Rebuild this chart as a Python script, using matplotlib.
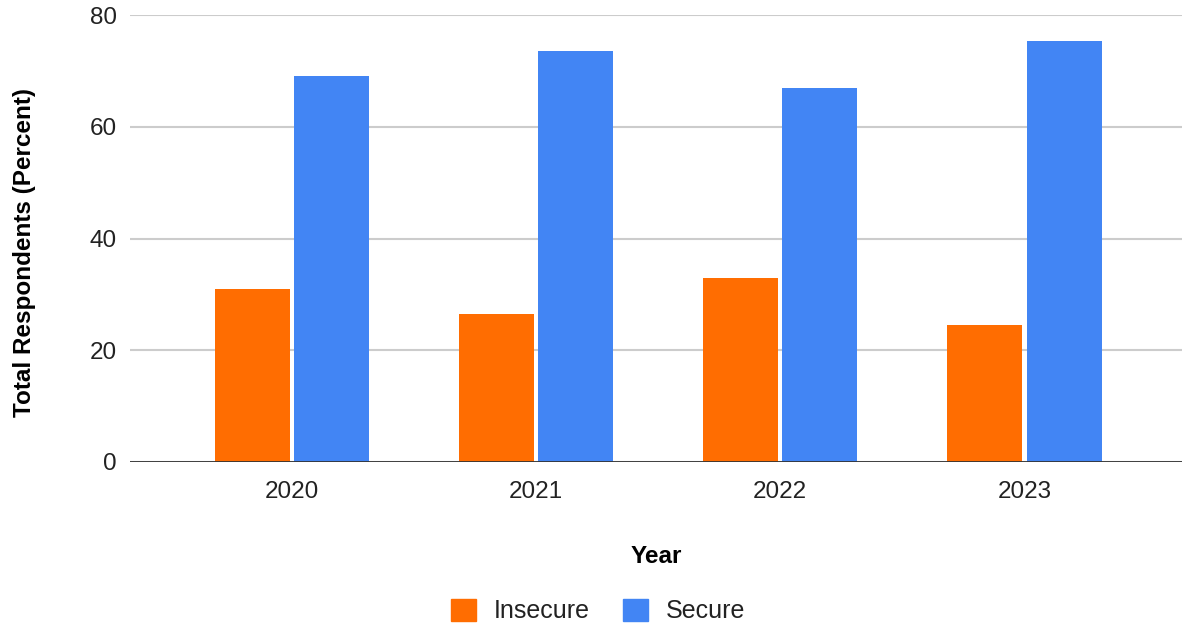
import numpy as np
import matplotlib
matplotlib.use('Agg')
import matplotlib.pyplot as plt
from matplotlib.patches import Patch

years = ['2020', '2021', '2022', '2023']
insecure = [31, 26.5, 33, 24.6]
secure = [69, 73.5, 67, 75.4]

plt.rcParams['font.family'] = ['Liberation Sans', 'DejaVu Sans']

fig = plt.figure(figsize=(11.82, 6.24), dpi=100)
ax = fig.add_axes([130 / 1182, 162 / 624, 1052 / 1182, 447 / 624])

x = np.arange(len(years))
w = 0.307
ax.bar(x - 0.162, insecure, w, color='#FF6D01', label='Insecure', zorder=3)
ax.bar(x + 0.162, secure, w, color='#4285F4', label='Secure', zorder=3)

ax.set_xlim(-0.663, 3.645)
ax.set_ylim(0, 80)
ax.set_yticks([0, 20, 40, 60, 80])
ax.set_xticks(x)
ax.set_xticklabels(years)
ax.grid(axis='y', color='#cccccc', linewidth=1.5, zorder=0)
ax.axhline(0, color='#333333', linewidth=2, zorder=4)
for s in ax.spines.values():
    s.set_visible(False)
ax.tick_params(axis='both', length=0, labelsize=17.5, labelcolor='#222222')
ax.tick_params(axis='y', pad=9.5)
ax.tick_params(axis='x', pad=14)

ax.set_ylabel('Total Respondents (Percent)', fontsize=17.5, fontweight='bold')
ax.yaxis.set_label_coords(-0.0894, 0.4676)
ax.set_xlabel('Year', fontsize=17.5, fontweight='bold')
ax.xaxis.set_label_coords(0.5, -0.186)

handles = [Patch(color='#FF6D01', label='Insecure'), Patch(color='#4285F4', label='Secure')]
fig.legend(handles=handles, loc='center', bbox_to_anchor=(598 / 1182, 1 - 611 / 624),
           ncol=2, frameon=False, fontsize=18, handlelength=1.0, handleheight=1.0,
           handletextpad=0.7, columnspacing=1.36, labelcolor='#222222')

fig.savefig('out.png', dpi=100)
